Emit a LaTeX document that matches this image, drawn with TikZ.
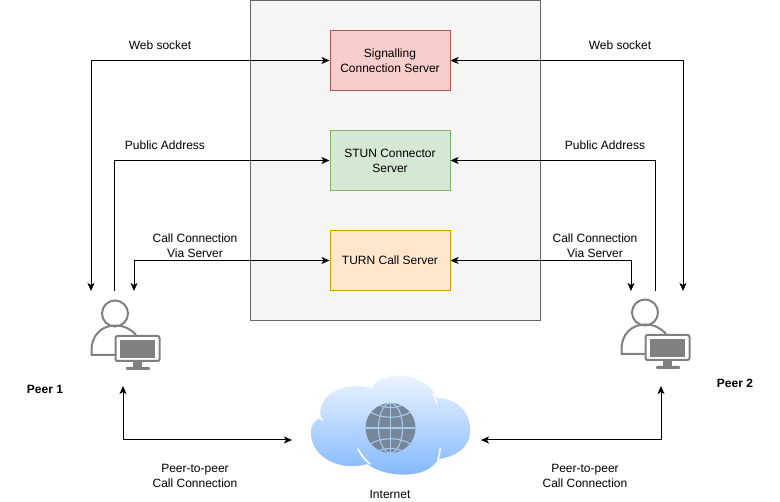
\documentclass[tikz,border=0pt]{standalone}
\usepackage{fontspec}
\setmainfont{Liberation Sans}
\usetikzlibrary{arrows.meta}
\definecolor{panelfill}{HTML}{F5F5F5}
\definecolor{panelline}{HTML}{666666}
\definecolor{redfill}{HTML}{F8CECC}
\definecolor{redline}{HTML}{B85450}
\definecolor{greenfill}{HTML}{D5E8D4}
\definecolor{greenline}{HTML}{82B366}
\definecolor{orangefill}{HTML}{FFE6CC}
\definecolor{orangeline}{HTML}{D79B00}
\definecolor{peergray}{HTML}{808080}
\definecolor{globefill}{HTML}{768799}
\definecolor{globeline}{HTML}{A9C8EC}
\definecolor{cloudtop}{HTML}{F2F7FF}
\definecolor{cloudbot}{HTML}{7EB6FF}
\tikzset{
	label/.style={font=\fontsize{12}{15}\selectfont,align=center,inner sep=0pt,text=black},
	server/.style={label,draw,line width=1pt,minimum width=120pt,minimum height=60pt},
	link/.style={line width=1pt,>={Stealth[length=8pt,width=7pt,inset=2pt]}},
	peerline/.style={draw=peergray,line width=2pt},
	gap/.style={draw=white,line width=1.6pt,line cap=round}
}
\begin{document}
\begin{tikzpicture}[x=1pt,y=-1pt]
	\useasboundingbox (0,0) rectangle (780,502);
	\node[draw=panelline,fill=panelfill,line width=1pt,minimum width=290pt,minimum height=320pt,inner sep=0pt] (panel) at (395.5,160.5) {};
	\node[server,fill=redfill,draw=redline] (signal) at (390,60.5) {Signalling\\Connection Server};
	\node[server,fill=greenfill,draw=greenline] (stun) at (390,160.5) {STUN Connector\\Server};
	\node[server,fill=orangefill,draw=orangeline] (turn) at (390,260.5) {TURN Call Server};
	% free ends at the peers
	\coordinate (p1a) at (91,291);
	\coordinate (p1b) at (114,291);
	\coordinate (p1c) at (134,291);
	\coordinate (p1d) at (123,386);
	\coordinate (p2a) at (683,291);
	\coordinate (p2b) at (655,291);
	\coordinate (p2c) at (631,291);
	\coordinate (p2d) at (661,386);
	\coordinate (cloudl) at (292,440);
	\coordinate (cloudr) at (481,440);
	% connectors
	\draw[link,<->] (p1a)|-(signal.west);
	\draw[link,<->] (p2a)|-(signal.east);
	\draw[link,->] (p1b)|-(stun.west);
	\draw[link,->] (p2b)|-(stun.east);
	\draw[link,<->] (p1c)|-(turn.west);
	\draw[link,<->] (p2c)|-(turn.east);
	\draw[link,<->] (p1d)|-(cloudl);
	\draw[link,<->] (p2d)|-(cloudr);
	% the two peers
	\foreach \dx/\dy in {0/0,530/1}{
		\begin{scope}[xshift=\dx pt,yshift=\dy pt]
			\draw[peerline] (115,313.5) circle (13);
			\draw[peerline] (115,355)--(91.5,355)--(91.5,350) .. controls (91.5,335) and (102,325.5) .. (115,325.5) .. controls (124,325.5) and (131,329) .. (136,335);
			\draw[peerline,fill=white,rounded corners=2pt] (115.5,336)rectangle(159.5,361);
			\fill[peergray] (120,340)rectangle(155,358);
			\fill[peergray] (133,361)rectangle(142,367);
			\fill[peergray,rounded corners=1pt] (126,367)rectangle(150,370);
		\end{scope}
	}
	% cloud
	\shade[top color=cloudtop,bottom color=cloudbot] (321,418) .. controls (316,398) and (340,380) .. (372,388) .. controls (378,370) and (425,370) .. (437,398) .. controls (458,398) and (471,414) .. (470,431) .. controls (470,448) and (455,457) .. (438,459) .. controls (428,480) and (385,478) .. (367,464) .. controls (342,472) and (310,458) .. (311,432) .. controls (311,424) and (315,420) .. (321,418) -- cycle;
	\draw[gap] (319,415)--(322,420) (369,386)--(372,388);
	\draw[gap] (433,394) .. controls (435,398) and (436,401) .. (437,403);
	\draw[gap] (358,449) .. controls (361,455) and (365,460) .. (370,464);
	\draw[gap] (440,449) .. controls (440,452) and (439,456) .. (438,459);
	% globe
	\node[circle,fill=globefill,minimum size=50pt,inner sep=0pt] (globe) at (390.5,428) {};
	\begin{scope}
		\clip (390.5,428) circle (25);
		\draw[globeline,line width=1.1pt] (390.5,403)--(390.5,453) (365.5,428)--(415.5,428);
		\draw[globeline,line width=1.1pt] (390.5,428) ellipse (12 and 25);
		\draw[globeline,line width=1.1pt] (370,412) .. controls (382,419) and (399,419) .. (411,412) (370,444) .. controls (382,437) and (399,437) .. (411,444);
		\draw[globeline,line width=1.1pt] (374,403) .. controls (384,409) and (397,409) .. (407,403) (374,453) .. controls (384,447) and (397,447) .. (407,453);
	\end{scope}
	% labels
	\node[label] (ws1) at (160,45) {Web socket};
	\node[label] (ws2) at (620,45) {Web socket};
	\node[label] (pa1) at (165,145) {Public Address};
	\node[label] (pa2) at (605,145) {Public Address};
	\node[label] (cc1) at (195,245.7) {Call Connection\\Via Server};
	\node[label] (cc2) at (595,245.7) {Call Connection\\Via Server};
	\node[label,font=\fontsize{12}{15}\selectfont\bfseries] (peer1) at (45,389) {Peer 1};
	\node[label,font=\fontsize{12}{15}\selectfont\bfseries] (peer2) at (735,383) {Peer 2};
	\node[label] (pp1) at (195,475.7) {Peer-to-peer\\Call Connection};
	\node[label] (pp2) at (585,475.7) {Peer-to-peer\\Call Connection};
	\node[label] (net) at (390,494) {Internet};
\end{tikzpicture}
\end{document}
